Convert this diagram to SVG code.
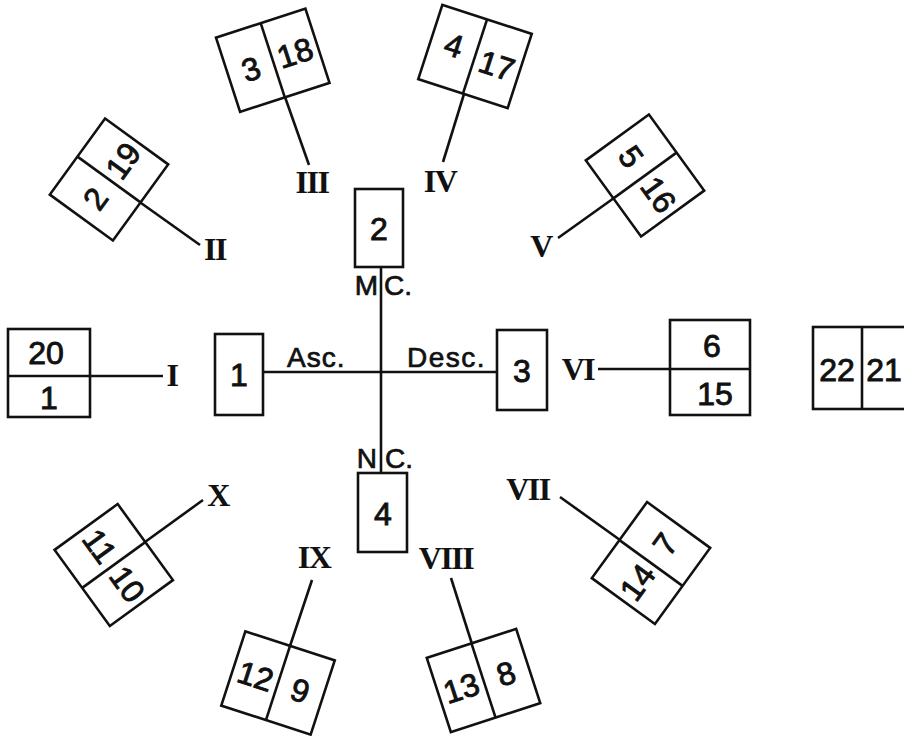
<svg xmlns="http://www.w3.org/2000/svg" width="904" height="736" viewBox="0 0 904 736">
<style>
.bx{fill:none;stroke:#111;stroke-width:2.6}
.ln{stroke:#111;stroke-width:2.6;fill:none}
.d{font-family:"Liberation Sans",Arial,sans-serif;font-size:32px;fill:#111;text-anchor:middle;stroke:#111;stroke-width:0.9}
.lb{font-family:"Liberation Sans",Arial,sans-serif;font-size:28px;fill:#111;stroke:#111;stroke-width:0.7}
.r{font-family:"Liberation Serif","Times New Roman",serif;font-weight:bold;font-size:32px;fill:#111;text-anchor:middle;letter-spacing:-1.5px}
</style>
<rect width="904" height="736" fill="#fff"/>
<g id="connectors">
<line class="ln" x1="381" y1="267" x2="381" y2="473"/>
<line class="ln" x1="263" y1="372" x2="497" y2="372"/>
<line class="ln" x1="90" y1="376" x2="163" y2="376"/>
<line class="ln" x1="141" y1="203" x2="200" y2="245"/>
<line class="ln" x1="285" y1="97" x2="309" y2="165"/>
<line class="ln" x1="464" y1="94" x2="443" y2="162"/>
<line class="ln" x1="614" y1="198" x2="558" y2="238"/>
<line class="ln" x1="598" y1="369" x2="670" y2="369"/>
<line class="ln" x1="560" y1="497" x2="620" y2="540"/>
<line class="ln" x1="451" y1="578" x2="472" y2="644"/>
<line class="ln" x1="312" y1="580" x2="290" y2="646"/>
<line class="ln" x1="203" y1="500" x2="145" y2="542"/>
</g>
<g id="center-labels">
<text class="lb" x="287" y="367" letter-spacing="1">Asc.</text>
<text class="lb" x="407" y="367" letter-spacing="1.5">Desc.</text>
<text class="lb" x="378" y="295" text-anchor="end">M</text>
<text class="lb" x="384" y="295">C.</text>
<text class="lb" x="377" y="468" text-anchor="end">N</text>
<text class="lb" x="385" y="468">C.</text>
</g>
<g id="box1"><rect class="bx" x="215" y="334" width="48" height="81"/><text class="d" x="239" y="386">1</text></g>
<g id="box2"><rect class="bx" x="355" y="189" width="48" height="78"/><text class="d" x="379" y="240">2</text></g>
<g id="box3"><rect class="bx" x="497" y="330" width="50" height="80"/><text class="d" x="522" y="382">3</text></g>
<g id="box4"><rect class="bx" x="358" y="473" width="49" height="79"/><text class="d" x="383" y="525">4</text></g>
<g id="houseI">
<rect class="bx" x="8" y="329" width="82" height="88"/><line class="ln" x1="8" y1="376" x2="90" y2="376"/>
<text class="d" x="46" y="364">20</text><text class="d" x="49" y="409">1</text>
<text class="r" x="172" y="386">I</text>
</g>
<g id="houseII">
<g transform="translate(109,179.5) rotate(-54)">
<rect class="bx" x="-47" y="-39" width="94" height="78"/><line class="ln" x1="0" y1="-39" x2="0" y2="39"/>
<text class="d" x="-23.5" y="11.5">2</text><text class="d" x="23.5" y="11.5">19</text>
</g>
<text class="r" x="215" y="260">II</text>
</g>
<g id="houseIII">
<g transform="translate(272.75,60.25) rotate(-18)">
<rect class="bx" x="-47" y="-39" width="94" height="78"/><line class="ln" x1="0" y1="-39" x2="0" y2="39"/>
<text class="d" x="-23.5" y="13">3</text><text class="d" x="23.5" y="11">18</text>
</g>
<text class="r" x="312" y="193">III</text>
</g>
<g id="houseIV">
<g transform="translate(475,56.5) rotate(18)">
<rect class="bx" x="-47" y="-39" width="94" height="78"/><line class="ln" x1="0" y1="-39" x2="0" y2="39"/>
<text class="d" x="-23.5" y="7">4</text><text class="d" x="23.5" y="13">17</text>
</g>
<text class="r" x="440" y="192">IV</text>
</g>
<g id="houseV">
<g transform="translate(645,175.5) rotate(54)">
<rect class="bx" x="-47" y="-39" width="94" height="78"/><line class="ln" x1="0" y1="-39" x2="0" y2="39"/>
<text class="d" x="-23.5" y="11.5">5</text><text class="d" x="23.5" y="11.5">16</text>
</g>
<text class="r" x="541" y="257">V</text>
</g>
<g id="houseVI">
<rect class="bx" x="670" y="320" width="80" height="95"/><line class="ln" x1="670" y1="369" x2="750" y2="369"/>
<text class="d" x="712" y="357">6</text><text class="d" x="715" y="405">15</text>
<text class="r" x="578" y="380">VI</text>
</g>
<g id="house2221">
<rect class="bx" x="813" y="327" width="97" height="82"/><line class="ln" x1="862" y1="327" x2="862" y2="409"/>
<text class="d" x="837" y="381">22</text><text class="d" x="884" y="381">21</text>
</g>
<g id="houseVII">
<g transform="translate(651,563) rotate(126)">
<rect class="bx" x="-47" y="-39" width="94" height="78"/><line class="ln" x1="0" y1="-39" x2="0" y2="39"/>
<text class="d" x="-23.5" y="11.5" transform="rotate(180 -23.5 0)">7</text><text class="d" x="23.5" y="11.5" transform="rotate(180 23.5 0)">14</text>
</g>
<text class="r" x="528" y="500">VII</text>
</g>
<g id="houseVIII">
<g transform="translate(483.5,680.5) rotate(162)">
<rect class="bx" x="-47" y="-39" width="94" height="78"/><line class="ln" x1="0" y1="-39" x2="0" y2="39"/>
<text class="d" x="-23.5" y="11.5" transform="rotate(180 -23.5 0)">8</text><text class="d" x="23.5" y="11.5" transform="rotate(180 23.5 0)">13</text>
</g>
<text class="r" x="446" y="569">VIII</text>
</g>
<g id="houseIX">
<g transform="translate(278,683) rotate(-162)">
<rect class="bx" x="-47" y="-39" width="94" height="78"/><line class="ln" x1="0" y1="-39" x2="0" y2="39"/>
<text class="d" x="-23.5" y="11.5" transform="rotate(180 -23.5 0)">9</text><text class="d" x="23.5" y="11.5" transform="rotate(180 23.5 0)">12</text>
</g>
<text class="r" x="314" y="568">IX</text>
</g>
<g id="houseX">
<g transform="translate(113.75,565) rotate(-126)">
<rect class="bx" x="-47" y="-39" width="94" height="78"/><line class="ln" x1="0" y1="-39" x2="0" y2="39"/>
<text class="d" x="-23.5" y="11.5" transform="rotate(180 -23.5 0)">10</text><text class="d" x="23.5" y="11.5" transform="rotate(180 23.5 0)">11</text>
</g>
<text class="r" x="218" y="506">X</text>
</g>
</svg>
